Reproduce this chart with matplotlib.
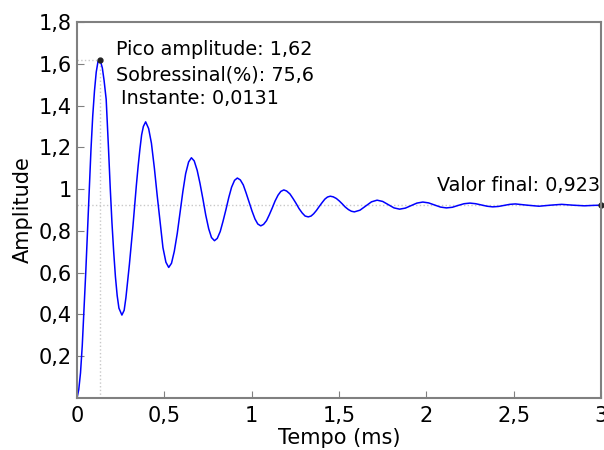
import matplotlib
matplotlib.use("Agg")
import matplotlib.pyplot as plt

# resposta ao degrau (tempo em ms, amplitude)
tempo = [
    0, 0.01, 0.02, 0.03, 0.04, 0.05, 0.06, 0.07, 0.08, 0.09, 0.10, 0.11, 0.12, 0.132,
    0.145, 0.155, 0.167, 0.18, 0.19, 0.20, 0.21, 0.22, 0.23, 0.24, 0.257,
    0.27, 0.28, 0.29, 0.30, 0.31, 0.32, 0.33, 0.34, 0.35, 0.36, 0.37, 0.38, 0.393,
    0.41, 0.426, 0.443, 0.459, 0.476, 0.492, 0.509, 0.525,
    0.541, 0.557, 0.574, 0.590, 0.606, 0.622, 0.639, 0.655,
    0.671, 0.688, 0.704, 0.721, 0.737, 0.754, 0.770, 0.787,
    0.803, 0.820, 0.836, 0.853, 0.869, 0.885, 0.902, 0.918,
    0.935, 0.952, 0.968, 0.985, 1.002, 1.019, 1.035, 1.052,
    1.068, 1.085, 1.101, 1.118, 1.134, 1.151, 1.167, 1.184,
    1.2, 1.219, 1.236, 1.254, 1.271, 1.289, 1.306, 1.324,
    1.340, 1.355, 1.371, 1.387, 1.403, 1.419, 1.434, 1.450,
    1.467, 1.485, 1.502, 1.519, 1.536, 1.554, 1.571, 1.588,
    1.620, 1.653, 1.686, 1.718, 1.750, 1.782, 1.815, 1.847,
    1.88, 1.913, 1.946, 1.98, 2.013, 2.047, 2.081, 2.115,
    2.149, 2.183, 2.216, 2.25, 2.283, 2.315, 2.348, 2.38,
    2.413, 2.445, 2.478, 2.51, 2.578, 2.645, 2.71, 2.775,
    2.84, 2.905, 2.955, 3.0,
]
amplitude = [
    0, 0.04, 0.12, 0.25, 0.42, 0.60, 0.80, 1.01, 1.19, 1.35, 1.47, 1.56, 1.61, 1.62,
    1.58, 1.52, 1.43, 1.20, 1.01, 0.84, 0.70, 0.58, 0.49, 0.43, 0.397,
    0.42, 0.48, 0.56, 0.64, 0.73, 0.82, 0.92, 1.02, 1.11, 1.19, 1.26, 1.30, 1.322,
    1.29, 1.22, 1.10, 0.97, 0.84, 0.72, 0.65, 0.625,
    0.645, 0.702, 0.788, 0.888, 0.988, 1.074, 1.13, 1.15,
    1.135, 1.09, 1.028, 0.952, 0.876, 0.81, 0.768, 0.753,
    0.764, 0.797, 0.846, 0.903, 0.96, 1.009, 1.042, 1.053,
    1.044, 1.02, 0.982, 0.938, 0.895, 0.857, 0.833, 0.824,
    0.831, 0.849, 0.877, 0.91, 0.943, 0.971, 0.989, 0.996,
    0.991, 0.977, 0.956, 0.932, 0.907, 0.886, 0.871, 0.867,
    0.871, 0.882, 0.898, 0.917, 0.935, 0.952, 0.962, 0.966,
    0.963, 0.955, 0.943, 0.929, 0.914, 0.902, 0.894, 0.891,
    0.899, 0.919, 0.939, 0.947, 0.941, 0.926, 0.910, 0.904,
    0.909, 0.921, 0.933, 0.938, 0.934, 0.924, 0.914, 0.910,
    0.913, 0.922, 0.930, 0.933, 0.930, 0.924, 0.918, 0.915,
    0.917, 0.922, 0.927, 0.929, 0.923, 0.918, 0.923, 0.927,
    0.923, 0.920, 0.922, 0.923,
]

pico_t = 0.132
pico_amp = 1.62
valor_final = 0.923
t_final = 3.0

xticks = [0, 0.5, 1, 1.5, 2, 2.5, 3]
xticklabels = ["0", "0,5", "1", "1,5", "2", "2,5", "3"]
yticks = [0.2, 0.4, 0.6, 0.8, 1.0, 1.2, 1.4, 1.6, 1.8]
yticklabels = ["0,2", "0,4", "0,6", "0,8", "1", "1,2", "1,4", "1,6", "1,8"]

plt.rcParams["font.family"] = ["DejaVu Sans"]

fig = plt.figure(figsize=(6.04, 4.5), dpi=100)
ax = fig.add_axes([0.1275, 0.1156, 0.8675, 0.8355])

cinza = "#c8c8c8"
# linhas pontilhadas de referencia
ax.plot([0, pico_t], [pico_amp, pico_amp], ls=":", color=cinza, lw=1)
ax.plot([pico_t, pico_t], [0, pico_amp], ls=":", color=cinza, lw=1)
ax.plot([0, t_final], [valor_final, valor_final], ls=":", color=cinza, lw=1)

ax.plot(tempo, amplitude, color="#0000ff", lw=1.1)

ax.plot([pico_t], [pico_amp], "o", color="#222222", ms=3.5, clip_on=False)
ax.plot([t_final], [valor_final], "o", color="#222222", ms=3.5, clip_on=False)

fs_txt = 13.8
ax.text(0.224, 1.670, "Pico amplitude: 1,62", fontsize=fs_txt, va="center", ha="left")
ax.text(0.224, 1.545, "Sobressinal(%): 75,6", fontsize=fs_txt, va="center", ha="left")
ax.text(0.253, 1.435, "Instante: 0,0131", fontsize=fs_txt, va="center", ha="left")
ax.text(2.994, 1.019, "Valor final: 0,923", fontsize=fs_txt, va="center", ha="right")

ax.set_xlim(0, 3)
ax.set_ylim(0, 1.8)
ax.set_xticks(xticks)
ax.set_xticklabels(xticklabels, fontsize=15)
ax.set_yticks(yticks)
ax.set_yticklabels(yticklabels, fontsize=15)
ax.tick_params(direction="in", length=5, color="#808080", pad=4)
ax.tick_params(axis="x", pad=6)

for s in ax.spines.values():
    s.set_color("#808080")
    s.set_linewidth(1.5)

ax.set_xlabel("Tempo (ms)", fontsize=15, labelpad=1)
ax.set_ylabel("Amplitude", fontsize=15, labelpad=4)

fig.savefig("out.png", dpi=100)
